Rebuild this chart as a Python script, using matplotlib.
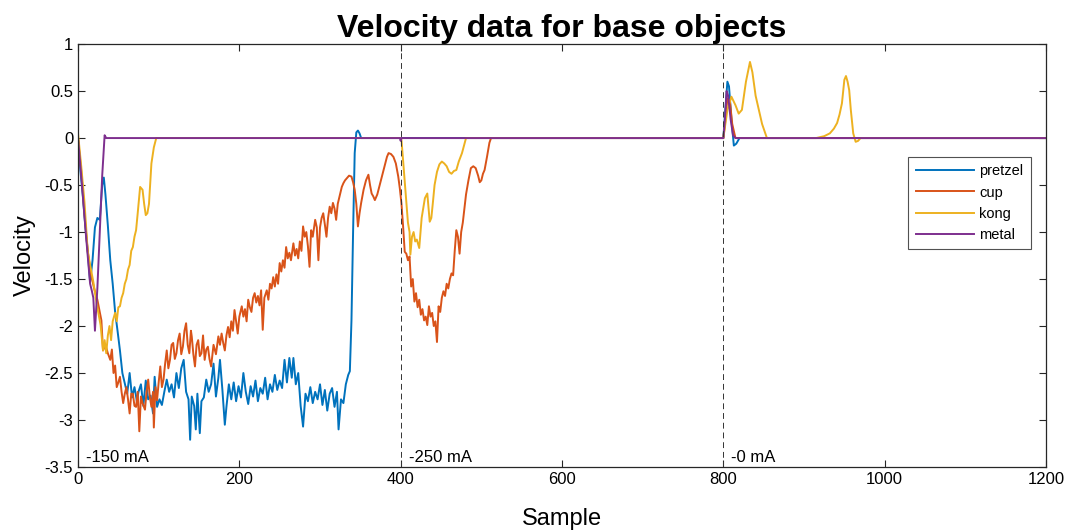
import matplotlib
matplotlib.use("Agg")
import matplotlib.pyplot as plt
import numpy as np

plt.rcParams['font.family'] = ['Liberation Sans', 'DejaVu Sans']

# ---- data (sample index, velocity) ----
pretzel_s = [0, 3, 6, 9, 12, 15, 18, 21, 24, 27, 30, 32, 34, 37, 40, 43, 46, 49, 52, 55,
             58, 61, 64, 67, 70, 73, 75, 78, 81, 84, 87, 90, 93, 95, 98, 101, 104, 107, 110, 113,
             116, 119, 122, 125, 128, 131, 134, 137, 139, 141, 144, 146, 148, 151, 153, 156, 159, 162, 165, 168,
             171, 174, 176, 179, 182, 184, 187, 190, 193, 196, 199, 202, 205, 208, 211, 214, 217, 220, 223, 226,
             229, 232, 235, 238, 241, 244, 247, 250, 253, 256, 259, 262, 265, 267, 270, 273, 276, 279, 282, 285,
             288, 291, 294, 297, 300, 303, 306, 309, 312, 315, 318, 321, 323, 326, 329, 332, 335, 337, 339, 341,
             343, 345, 347, 349, 351, 800, 802, 805, 807, 810, 813, 816, 820, 1200]
pretzel_v = [0, -0.35, -0.62, -0.93, -1.2, -1.53, -1.3, -0.95, -0.85, -0.87, -0.5, -0.42, -0.6, -0.93, -1.3, -1.55, -1.85, -2.05, -2.26, -2.5,
             -2.61, -2.72, -2.5, -2.76, -2.65, -2.8, -2.7, -2.62, -2.85, -2.58, -2.78, -2.74, -2.93, -2.54, -2.86, -2.78, -2.84, -2.7, -2.57, -2.7,
             -2.62, -2.76, -2.5, -2.66, -2.45, -2.36, -2.7, -2.78, -3.21, -2.75, -2.85, -3.1, -2.72, -3.14, -2.8, -2.76, -2.57, -2.7, -2.62, -2.4,
             -2.75, -2.55, -2.36, -2.68, -3.05, -2.86, -2.62, -2.78, -2.6, -2.8, -2.64, -2.76, -2.5, -2.7, -2.83, -2.64, -2.75, -2.58, -2.8, -2.66,
             -2.72, -2.55, -2.78, -2.62, -2.7, -2.52, -2.68, -2.58, -2.66, -2.36, -2.6, -2.34, -2.55, -2.34, -2.62, -2.5, -2.85, -3.07, -2.72, -2.8,
             -2.65, -2.82, -2.7, -2.78, -2.62, -2.84, -2.68, -2.9, -2.72, -2.66, -2.86, -2.7, -3.1, -2.78, -2.82, -2.62, -2.52, -2.48, -1.94, -1.0,
             -0.16, 0.06, 0.08, 0.05, 0.0, 0, 0.25, 0.6, 0.55, 0.2, -0.08, -0.06, 0, 0]

cup_s = [0, 4, 8, 12, 16, 20, 24, 27, 29, 31, 34, 37, 40, 42, 44, 46, 48, 50, 52, 54,
         56, 58, 60, 62, 64, 66, 68, 70, 72, 74, 76, 78, 80, 83, 85, 87, 89, 91, 93, 94,
         96, 98, 100, 102, 104, 106, 108, 110, 112, 114, 116, 118, 120, 122, 124, 126, 128, 130, 132, 134,
         136, 138, 140, 141, 143, 145, 147, 149, 151, 153, 155, 157, 159, 161, 163, 165, 168, 171, 174, 176,
         178, 180, 182, 184, 186, 188, 190, 192, 194, 196, 198, 200, 203, 205, 207, 209, 211, 213, 215, 217,
         219, 221, 223, 225, 227, 229, 231, 234, 236, 238, 240, 242, 244, 246, 248, 250, 252, 254, 256, 258,
         260, 262, 264, 267, 269, 271, 273, 275, 277, 279, 281, 283, 285, 287, 289, 291, 294, 296, 298, 300,
         302, 304, 306, 308, 310, 312, 314, 316, 318, 320, 322, 325, 327, 329, 331, 333, 336, 339, 341, 343,
         345, 347, 349, 351, 354, 357, 360, 362, 364, 366, 368, 371, 374, 377, 380, 383, 385, 388, 391, 394,
         397, 399, 401, 403, 405, 407, 409, 411, 413, 415, 417, 419, 421, 423, 425, 427, 429, 431, 433, 435,
         437, 439, 441, 443, 445, 447, 449, 451, 453, 455, 457, 459, 461, 463, 465, 467, 469, 471, 473, 475,
         477, 479, 481, 484, 487, 490, 493, 496, 498, 500, 502, 504, 507, 510, 512, 800, 802, 805, 808, 811,
         815, 1200]
cup_v = [0, -0.35, -0.8, -1.2, -1.45, -1.6, -1.72, -1.85, -1.94, -2.26, -2.2, -2.29, -2.36, -2.25, -2.5, -2.42, -2.65, -2.6, -2.54, -2.7,
         -2.82, -2.72, -2.65, -2.78, -2.93, -2.72, -2.72, -2.85, -2.86, -2.7, -3.12, -2.75, -2.82, -2.89, -2.7, -2.57, -2.75, -2.86, -2.7, -3.08,
         -2.65, -2.79, -2.6, -2.43, -2.65, -2.57, -2.4, -2.26, -2.45, -2.36, -2.2, -2.18, -2.35, -2.29, -2.15, -2.08, -2.3, -2.22, -2.05, -1.97,
         -2.2, -2.29, -2.05, -2.11, -2.3, -2.43, -2.2, -2.15, -2.32, -2.29, -2.1, -2.36, -2.25, -2.22, -2.35, -2.43, -2.2, -2.3, -2.11, -2.2,
         -2.08, -2.18, -2.26, -2.1, -2.01, -2.12, -1.95, -2.05, -1.83, -1.95, -2.08, -1.9, -1.79, -1.9, -1.82, -1.95, -1.72, -1.8, -1.85, -1.7,
         -1.65, -1.75, -1.68, -1.78, -1.62, -2.04, -1.7, -1.62, -1.72, -1.55, -1.6, -1.48, -1.58, -1.45, -1.55, -1.33, -1.42, -1.3, -1.38, -1.16,
         -1.28, -1.22, -1.3, -1.12, -1.25, -1.18, -1.28, -1.1, -1.2, -0.94, -1.05, -1.0, -1.15, -1.37, -0.98, -1.05, -0.87, -0.95, -1.3, -0.95,
         -0.85, -0.8, -0.92, -1.05, -0.85, -0.73, -0.8, -0.69, -0.75, -0.87, -0.7, -0.59, -0.52, -0.48, -0.45, -0.43, -0.4, -0.41, -0.47, -0.55,
         -0.7, -0.94, -0.8, -0.69, -0.55, -0.45, -0.39, -0.5, -0.59, -0.62, -0.66, -0.6, -0.5, -0.4, -0.3, -0.2, -0.16, -0.17, -0.2, -0.27,
         -0.41, -0.54, -0.7, -0.94, -1.21, -1.23, -1.3, -1.26, -1.58, -1.5, -1.74, -1.65, -1.8, -1.72, -1.88, -1.82, -1.94, -1.9, -1.99, -1.79,
         -1.9, -1.86, -2.0, -1.95, -2.17, -1.79, -1.85, -1.7, -1.63, -1.68, -1.55, -1.6, -1.5, -1.44, -1.46, -1.2, -0.98, -1.05, -1.23, -1.0,
         -0.9, -0.75, -0.6, -0.45, -0.32, -0.3, -0.32, -0.4, -0.47, -0.45, -0.38, -0.34, -0.2, -0.05, 0, 0, 0.15, 0.42, 0.4, 0.15,
         0, 0]

kong_s = [0, 4, 8, 12, 15, 19, 22, 25, 28, 31, 33, 35, 37, 39, 41, 43, 46, 48, 50, 52,
          54, 56, 58, 60, 62, 64, 66, 68, 70, 72, 74, 77, 80, 82, 84, 86, 88, 91, 94, 97,
          400, 401, 404, 407, 409, 411, 412, 414, 416, 418, 420, 423, 426, 430, 433, 436, 438, 440, 442, 445,
          448, 451, 454, 457, 460, 463, 466, 469, 472, 476, 481, 800, 805, 810, 815, 819, 823, 828, 833, 836,
          840, 844, 848, 854, 915, 925, 932, 937, 941, 944, 947, 950, 952, 954, 956, 958, 961, 964, 967, 970,
          1200]
kong_v = [0.05, -0.3, -0.68, -1.2, -1.35, -1.53, -1.7, -1.85, -1.99, -2.26, -2.15, -2.29, -2.1, -2.0, -2.15, -1.95, -1.86, -1.95, -1.8, -1.79,
          -1.7, -1.65, -1.55, -1.5, -1.4, -1.35, -1.2, -1.16, -1.05, -0.98, -0.8, -0.52, -0.55, -0.7, -0.82, -0.8, -0.7, -0.27, -0.1, 0,
          0, -0.02, -0.35, -0.68, -0.9, -1.0, -1.24, -1.05, -1.0, -1.1, -1.08, -1.17, -0.85, -0.64, -0.59, -0.89, -0.85, -0.68, -0.5, -0.36,
          -0.28, -0.25, -0.27, -0.3, -0.36, -0.38, -0.35, -0.34, -0.25, -0.16, 0, 0, 0.3, 0.44, 0.35, 0.26, 0.3, 0.6, 0.81, 0.7,
          0.45, 0.3, 0.15, 0, 0, 0.02, 0.05, 0.1, 0.16, 0.25, 0.37, 0.62, 0.66, 0.6, 0.51, 0.3, 0.05, -0.04, -0.03, 0,
          0]

metal_s = [0, 5, 10, 15, 17, 19, 21, 24, 27, 30, 33, 35, 399, 400, 401, 800, 802, 804, 806, 809, 812, 815, 1200]
metal_v = [0, -0.5, -1.05, -1.55, -1.62, -1.7, -2.05, -1.6, -1.0, -0.4, 0.03, 0.0, 0, -0.03, 0, 0, 0.2, 0.5, 0.45, 0.2, 0.03, 0, 0]

series = [('pretzel', pretzel_s, pretzel_v, '#0072BD'),
          ('cup', cup_s, cup_v, '#D95319'),
          ('kong', kong_s, kong_v, '#EDB120'),
          ('metal', metal_s, metal_v, '#7E2F8E')]

switch_samples = [400, 800]
currents = [(0, '-150 mA'), (400, '-250 mA'), (800, '-0 mA')]

fig = plt.figure(figsize=(10.7, 5.31), dpi=100)
ax = fig.add_axes([0.0729, 0.1205, 0.9047, 0.7965])

for name, s, v, c in series:
    ax.plot(s, v, color=c, linewidth=1.4, label=name)

for xs in switch_samples:
    ax.axvline(xs, color='#333333', linestyle=(0, (6, 4)), linewidth=0.7)

for xs, txt in currents:
    ax.text(xs + 10, -3.4, txt, fontsize=12, va='center', ha='left')

ax.set_xlim(0, 1200)
ax.set_ylim(-3.5, 1)
ax.set_xticks(np.arange(0, 1201, 200))
yt = np.arange(-3.5, 1.01, 0.5)
ax.set_yticks(yt)
ax.set_yticklabels(['%g' % t for t in yt])
ax.tick_params(direction='in', top=True, right=True, labelsize=12, length=5, width=0.8,
               colors='#262626', labelcolor='black')
for sp in ax.spines.values():
    sp.set_linewidth(0.9)
    sp.set_color('#262626')

ax.set_xlabel('Sample', fontsize=17, labelpad=15)
ax.set_ylabel('Velocity', fontsize=17, labelpad=6)
ax.set_title('Velocity data for base objects', fontsize=23, fontweight='bold', pad=5)

leg = ax.legend(loc='upper right', bbox_to_anchor=(0.984, 0.733), fontsize=10.5, handlelength=4.0,
                frameon=True, fancybox=False, edgecolor='#262626', borderpad=0.5, labelspacing=0.5,
                handletextpad=0.35, borderaxespad=0)
leg.get_frame().set_linewidth(0.8)

fig.savefig('out.png', dpi=100)
